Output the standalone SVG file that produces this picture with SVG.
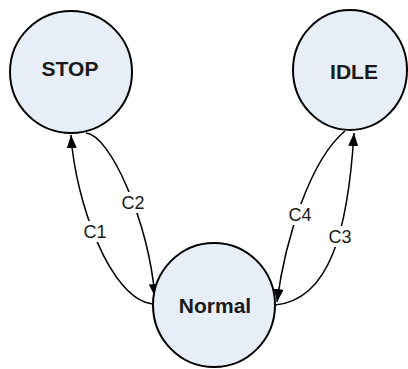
<svg xmlns="http://www.w3.org/2000/svg" width="408" height="369" viewBox="0 0 408 369">
<style>
.node{fill:#E8EEF8;stroke:#000;stroke-width:2}
.nt{font-family:"Liberation Sans",Arial,sans-serif;font-weight:bold;font-size:21px;fill:#1a1a1a;text-anchor:middle}
.edge{fill:none;stroke:#000;stroke-width:1.5}
.lb{fill:#fff}
.lt{font-family:"Liberation Sans",Arial,sans-serif;font-size:18px;fill:#1a1a1a;text-anchor:middle}
</style>
<defs>
<marker id="arr" markerUnits="userSpaceOnUse" markerWidth="15" markerHeight="11" refX="13" refY="5" orient="auto">
<path d="M0,0 L13,5 L0,10 z" fill="#000"/>
</marker>
</defs>
<rect width="408" height="369" fill="#fff"/>
<g id="connectors">
<path class="edge" d="M153,304 C110,300 75,200 71,135" marker-end="url(#arr)"/>
<path class="edge" d="M86,133 C110,135 148,220 155,297" marker-end="url(#arr)"/>
<path class="edge" d="M275,305 C330,300 348,230 354,133" marker-end="url(#arr)"/>
<path class="edge" d="M345,131 C310,160 285,240 277,302" marker-end="url(#arr)"/>
<rect class="lb" x="83" y="221" width="25" height="21"/>
<text class="lt" x="95" y="238">C1</text>
<rect class="lb" x="121" y="192" width="25" height="21"/>
<text class="lt" x="133" y="209">C2</text>
<rect class="lb" x="288" y="204" width="25" height="21"/>
<text class="lt" x="300" y="221">C4</text>
<rect class="lb" x="328" y="226" width="25" height="21"/>
<text class="lt" x="340" y="243">C3</text>
</g>
<g id="STOP">
<circle class="node" cx="71" cy="72" r="61"/>
<text class="nt" x="70" y="76">STOP</text>
</g>
<g id="IDLE">
<ellipse class="node" cx="350" cy="70" rx="57" ry="60"/>
<text class="nt" x="354" y="79">IDLE</text>
</g>
<g id="Normal">
<ellipse class="node" cx="214" cy="305" rx="61" ry="62"/>
<text class="nt" x="215" y="313">Normal</text>
</g>
</svg>
